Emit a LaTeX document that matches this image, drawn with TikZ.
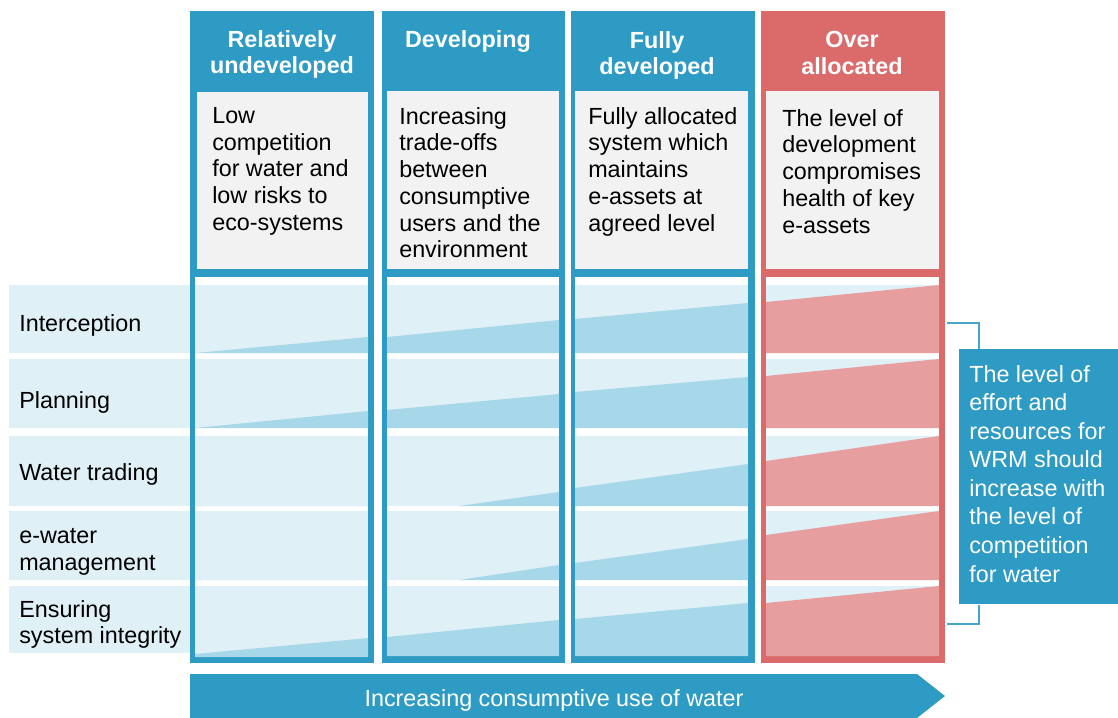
\documentclass[tikz,border=0pt]{standalone}
\usepackage{fontspec}
\setmainfont{Liberation Sans}
\definecolor{wrmblue}{RGB}{46,155,196}
\definecolor{wrmred}{RGB}{218,107,106}
\definecolor{bandlight}{RGB}{224,240,247}
\definecolor{wedgeblue}{RGB}{166,216,234}
\definecolor{wedgered}{RGB}{230,158,158}
\definecolor{descgray}{RGB}{242,242,242}
\definecolor{braceblue}{RGB}{70,165,202}
\newcommand{\bodysize}{\fontsize{16.6}{19}\selectfont}
% cell: light band, then the wedge (colour, x left, x right, y top, y bottom, wedge start, left h, right h)
\newcommand{\wedgecell}[8]{%
\fill[bandlight] (#2,#4) rectangle (#3,#5);
\fill[#1] (#6,#5) -- (#6,{#5-#7}) -- (#3,{#5-#8}) -- (#3,#5) -- cycle;}

\begin{document}
\begin{tikzpicture}[x=0.025cm,y=-0.025cm,
title/.style={anchor=north,inner sep=0,align=center,text=white,font=\bodysize\bfseries},
desc/.style={anchor=north west,inner sep=0,align=left,font=\bodysize},
rowlabel/.style={anchor=north west,inner sep=0,align=left,font=\bodysize}]
\useasboundingbox (0,0) rectangle (1118,717);

% columns
\fill[wrmblue] (190,11) rectangle (374,663);
\fill[wrmblue] (382,11) rectangle (565,663);
\fill[wrmblue] (571,11) rectangle (755,663);
\fill[wrmred] (761,11) rectangle (945,663);
\fill[white] (195,277) rectangle (368,657);
\fill[white] (387,277) rectangle (559,656);
\fill[white] (575,277) rectangle (748,656);
\fill[white] (766,277) rectangle (939,656);
\fill[descgray] (197,92) rectangle (368,269);
\fill[descgray] (387,91) rectangle (559,269);
\fill[descgray] (575,91) rectangle (748,269);
\fill[descgray] (766,91) rectangle (939,269);

\node[title] (hundev) at (282,30) {Relatively\\undeveloped};
\node[title] (hdev) at (468,30) {Developing};
\node[title] (hfull) at (657,31) {Fully\\developed};
\node[title] (hover) at (852,31) {Over\\allocated};

\node[desc] (dundev) at (212,107) {Low\\competition\\for water and\\low risks to\\eco-systems};
\node[desc] (ddev) at (399,107) {Increasing\\trade-offs\\between\\consumptive\\users and the\\environment};
\node[desc] (dfull) at (588,107) {Fully allocated\\system which\\maintains\\e-assets at\\agreed level};
\node[desc] (dover) at (782,109) {The level of\\development\\compromises\\health of key\\e-assets};

% row labels
\fill[bandlight] (9,285) rectangle (190,353);
\fill[bandlight] (9,359) rectangle (190,428);
\fill[bandlight] (9,436) rectangle (190,506);
\fill[bandlight] (9,511) rectangle (190,580);
\fill[bandlight] (9,586) rectangle (190,653);
\node[rowlabel] (linter) at (19,314) {Interception};
\node[rowlabel] (lplan) at (19,391) {Planning};
\node[rowlabel] (ltrade) at (19,463) {Water trading};
\node[rowlabel] (lewater) at (19,528) {e-water\\management};
\node[rowlabel] (lensure) at (19,600) {Ensuring\\system integrity};

% relatively undeveloped
\wedgecell{wedgeblue}{195}{368}{285}{353}{195}{0}{16}
\wedgecell{wedgeblue}{195}{368}{359}{428}{195}{0}{17}
\wedgecell{wedgeblue}{195}{368}{436}{506}{195}{0}{0}
\wedgecell{wedgeblue}{195}{368}{511}{580}{195}{0}{0}
\wedgecell{wedgeblue}{195}{368}{586}{657}{195}{3}{19}
% developing
\wedgecell{wedgeblue}{387}{559}{285}{353}{387}{16}{33}
\wedgecell{wedgeblue}{387}{559}{359}{428}{387}{18}{34}
\wedgecell{wedgeblue}{387}{559}{436}{506}{459}{0}{14}
\wedgecell{wedgeblue}{387}{559}{511}{580}{459}{0}{15}
\wedgecell{wedgeblue}{387}{559}{586}{656}{387}{19}{36}
% fully developed
\wedgecell{wedgeblue}{575}{748}{285}{353}{575}{34}{50}
\wedgecell{wedgeblue}{575}{748}{359}{428}{575}{36}{51}
\wedgecell{wedgeblue}{575}{748}{436}{506}{575}{18}{42}
\wedgecell{wedgeblue}{575}{748}{511}{580}{575}{17}{41}
\wedgecell{wedgeblue}{575}{748}{586}{656}{575}{37}{53}
% over allocated
\wedgecell{wedgered}{766}{939}{285}{353}{766}{51}{68}
\wedgecell{wedgered}{766}{939}{359}{428}{766}{52}{69}
\wedgecell{wedgered}{766}{939}{436}{506}{766}{45}{70}
\wedgecell{wedgered}{766}{939}{511}{580}{766}{45}{69}
\wedgecell{wedgered}{766}{939}{586}{656}{766}{53}{70}

% side note
\node[fill=wrmblue,anchor=north west,inner sep=0,minimum width=113.1pt,minimum height=181.4pt] (effort) at (959,349) {};
\node[desc,text=white,font=\fontsize{16.6}{20.3}\selectfont] (efforttext) at (969,365) {The level of\\effort and\\resources for\\WRM should\\increase with\\the level of\\competition\\for water};
\coordinate (bracetop) at (947,323);
\coordinate (bracebot) at (947,624);
\coordinate (braceknee) at (979,323);
\draw[braceblue,line width=0.8pt] (bracetop) -| (braceknee |- effort.north);
\draw[braceblue,line width=0.8pt] (bracebot) -| (braceknee |- effort.south);

% bottom arrow
\fill[wrmblue] (190,674) -- (917,674) -- (945,696) -- (917,718) -- (190,718) -- cycle;
\node[anchor=base,inner sep=0,text=white,font=\bodysize] (usetext) at (554,706) {Increasing consumptive use of water};
\end{tikzpicture}
\end{document}
